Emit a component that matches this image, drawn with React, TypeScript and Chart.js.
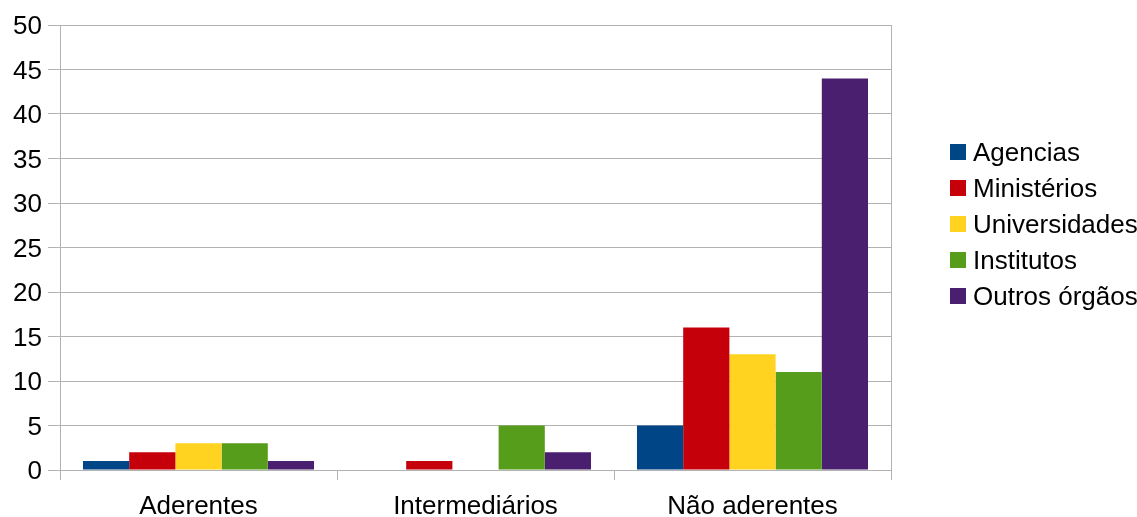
import React, { useEffect, useRef } from "react";
import { Chart, registerables } from "chart.js";

Chart.register(...registerables);

const categories = ["Aderentes", "Intermediários", "Não aderentes"];
const seriesNames = ["Agencias", "Ministérios", "Universidades", "Institutos", "Outros órgãos"];
const agencias = [1, 0, 5];
const ministerios = [2, 1, 16];
const universidades = [3, 0, 13];
const institutos = [3, 5, 11];
const outros = [1, 2, 44];
const seriesColors = ["#004586", "#c5000b", "#ffd320", "#579d1c", "#4b1f6f"];
const yMin = 0;
const yMax = 50;
const yStep = 5;

const FONT = "'Liberation Sans', Arial, sans-serif";
const FSIZE = 26;
const GRID = "#b3b3b3";

const legendPlugin = {
  id: "customLegend",
  afterDraw(chart: any) {
    const ctx = chart.ctx;
    ctx.save();
    ctx.font = `${FSIZE}px ${FONT}`;
    ctx.textBaseline = "middle";
    ctx.textAlign = "left";
    chart.data.datasets.forEach((ds: any, i: number) => {
      const cy = 152 + i * 36;
      ctx.fillStyle = ds.backgroundColor;
      ctx.fillRect(950, cy - 8, 16, 16);
      ctx.fillStyle = "#000";
      ctx.fillText(ds.label, 973, cy + 2);
    });
    ctx.restore();
  },
};

export default function App() {
  const ref = useRef<HTMLCanvasElement | null>(null);
  useEffect(() => {
    if (!ref.current) return;
    const values = [agencias, ministerios, universidades, institutos, outros];
    const chart = new Chart(ref.current, {
      type: "bar",
      data: {
        labels: categories,
        datasets: seriesNames.map((name, i) => ({
          label: name,
          data: values[i],
          backgroundColor: seriesColors[i],
          borderWidth: 0,
          categoryPercentage: 0.834,
          barPercentage: 1,
        })),
      },
      options: {
        animation: false,
        responsive: true,
        maintainAspectRatio: false,
        layout: { padding: { top: 25, left: 0, right: 246, bottom: 0 } },
        plugins: {
          legend: { display: false },
          tooltip: { enabled: false },
        },
        scales: {
          x: {
            grid: { offset: true, color: GRID, lineWidth: 1, tickLength: 10, drawTicks: true, drawOnChartArea: false },
            border: { display: true, color: GRID },
            ticks: { color: "#000", font: { family: FONT, size: FSIZE }, padding: 11, maxRotation: 0 },
            afterFit: (s: any) => { s.height = 47; },
          },
          y: {
            min: yMin,
            max: yMax,
            grid: { color: GRID, lineWidth: 1, tickLength: 12, drawTicks: true },
            border: { display: true, color: GRID },
            ticks: { stepSize: yStep, color: "#000", font: { family: FONT, size: FSIZE }, padding: 6, labelOffset: 2 },
            afterFit: (s: any) => { s.width = 60; },
          },
          yRight: {
            position: "right",
            min: yMin,
            max: yMax,
            grid: { display: false },
            border: { display: true, color: GRID },
            ticks: { display: false },
            afterFit: (s: any) => { s.width = 0; },
          },
        },
      },
      plugins: [legendPlugin],
    });
    return () => chart.destroy();
  }, []);
  return (
    <div style={{ position: "absolute", left: 0, top: 0, width: 1137, height: 517, background: "#fff" }}>
      <canvas ref={ref} />
    </div>
  );
}
